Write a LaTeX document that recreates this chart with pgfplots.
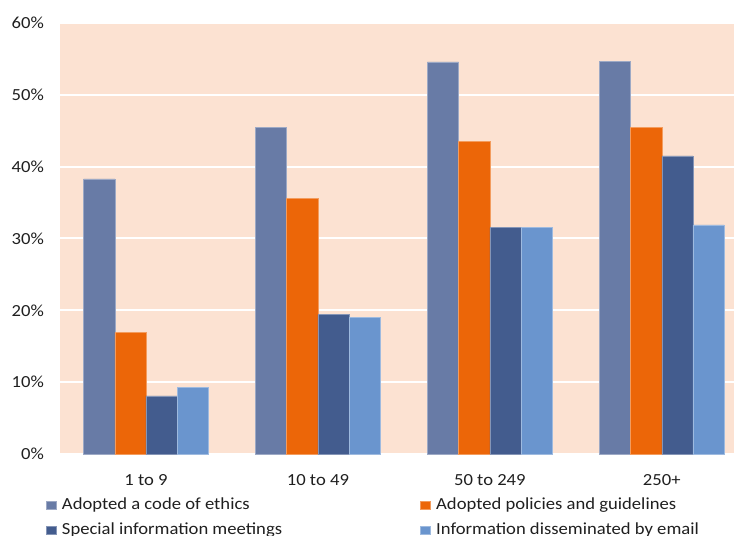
\documentclass[border=0pt]{standalone}
\usepackage{pgfplots}
\pgfplotsset{compat=1.18}
\usepackage{fontspec}
\setmainfont{Carlito}[FakeStretch=1.1]
\definecolor{c1}{HTML}{687BA6}
\definecolor{c2}{HTML}{EC6608}
\definecolor{c3}{HTML}{435C8E}
\definecolor{c4}{HTML}{6A95CE}
\definecolor{bg}{HTML}{FCE2D2}
\begin{document}
\begin{tikzpicture}
\useasboundingbox (0bp,0bp) rectangle (735bp,536bp);
\begin{axis}[
  at={(60bp,82bp)}, anchor=south west,
  scale only axis, width=674bp, height=431bp,
  xmin=-0.5, xmax=3.42, ymin=0, ymax=60,
  ybar=0pt, bar width=31.2bp,
  xtick={0,1,2,3}, xticklabels={1 to 9,10 to 49,50 to 249,250+},
  ytick={0,10,...,60}, yticklabel={\pgfmathprintnumber{\tick}\%},
  /pgf/number format/assume math mode=true,
  axis background/.style={fill=bg},
  axis line style={draw=none},
  major tick length=0pt,
  ymajorgrids, grid style={white, line width=2bp},
  tick label style={font=\fontsize{17}{20}\selectfont, text=black!88},
  xticklabel style={anchor=base, yshift=-31bp},
  yticklabel style={anchor=east, xshift=-12.6bp},
  legend columns=2,
  legend cell align=left,
  legend image code/.code={\fill[#1] (0bp,-4bp) rectangle (10bp,4.5bp);},
  legend style={at={(axis description cs:-0.0208,-0.0905)}, anchor=north west,
    draw=none, fill=none, inner sep=0pt,
    font=\fontsize{17}{20}\selectfont, text=black!88,
    nodes={text height=12.5bp, text depth=4bp, inner ysep=4.1bp, inner xsep=5.3bp},
    /tikz/column 2/.style={column sep=133bp}},
]
\addplot[fill=c1, draw=white!35!c1, line width=0.5bp] coordinates {(0,38.3) (1,45.5) (2,54.6) (3,54.7)};
\addplot[fill=c2, draw=white!35!c2, line width=0.5bp] coordinates {(0,16.9) (1,35.6) (2,43.5) (3,45.5)};
\addplot[fill=c3, draw=white!35!c3, line width=0.5bp] coordinates {(0,8.1) (1,19.4) (2,31.5) (3,41.5)};
\addplot[fill=c4, draw=white!35!c4, line width=0.5bp] coordinates {(0,9.3) (1,19.0) (2,31.5) (3,31.9)};
\legend{Adopted a code of ethics, Adopted policies and guidelines, Special information meetings, Information disseminated by email}
\end{axis}
\end{tikzpicture}
\end{document}
